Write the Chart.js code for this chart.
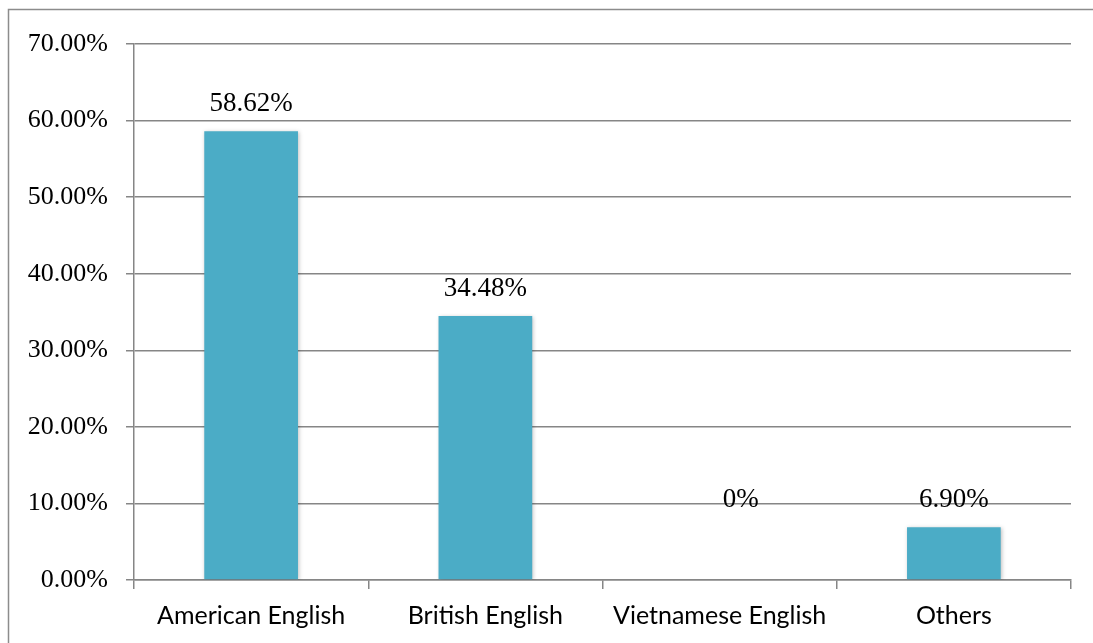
<!DOCTYPE html>
<html lang="en">

<head>
    <meta charset="UTF-8">
    <script src="https://cdn.jsdelivr.net/npm/chart.js@4"></script>
    <title>English varieties</title>
    <style>
        body { margin: 0; background: #fff; }
        #wrap { width: 1093px; height: 643px; position: relative; }
    </style>
</head>

<body>
    <div id="wrap"><canvas id="myChart"></canvas></div>
    <script>
        // data
        var categories = ['American English', 'British English', 'Vietnamese English', 'Others'];
        var shares = [58.62, 34.48, 0, 6.90];
        var shareLabels = ['58.62%', '34.48%', '0%', '6.90%'];
        var yTicks = [0, 10, 20, 30, 40, 50, 60, 70];

        var gridGray = '#868686';
        var serif = '"Liberation Serif", "Times New Roman", serif';

        // outer frame (runs off the right and bottom edge) + white background
        var framePlugin = {
            id: 'frame',
            beforeDraw: function (chart) {
                var c = chart.ctx;
                c.save();
                c.fillStyle = '#fff';
                c.fillRect(0, 0, chart.width, chart.height);
                c.strokeStyle = '#8c8c8c';
                c.lineWidth = 1.5;
                c.strokeRect(8.5, 9.5, 1200, 700);
                c.restore();
            }
        };

        // soft shadow under the bars like the office chart
        var shadowPlugin = {
            id: 'barShadow',
            beforeDatasetDraw: function (chart) {
                var c = chart.ctx;
                c.save();
                c.shadowColor = 'rgba(0,0,0,0.25)';
                c.shadowBlur = 4;
                c.shadowOffsetX = 1;
                c.shadowOffsetY = 1;
            },
            afterDatasetDraw: function (chart) {
                chart.ctx.restore();
            }
        };

        // value labels above each bar (zero value sits where excel put it, a bit off to the right)
        var labelPlugin = {
            id: 'valueLabels',
            afterDatasetsDraw: function (chart) {
                var c = chart.ctx;
                var meta = chart.getDatasetMeta(0);
                var y = chart.scales.y;
                c.save();
                c.font = '27px ' + serif;
                c.fillStyle = '#000';
                c.textAlign = 'center';
                c.textBaseline = 'alphabetic';
                meta.data.forEach(function (bar, i) {
                    var zero = shares[i] <= 0;
                    var v = zero ? 6.9 : shares[i];
                    c.fillText(shareLabels[i], bar.x + (zero ? 21 : 0), y.getPixelForValue(v) - 20);
                });
                c.restore();
            }
        };

        var ctx = document.getElementById('myChart').getContext('2d');
        var myChart = new Chart(ctx, {
            type: 'bar',
            data: {
                labels: categories,
                datasets: [{
                    data: shares,
                    backgroundColor: '#4bacc6',
                    borderWidth: 0,
                    categoryPercentage: 0.8,
                    barPercentage: 0.5
                }]
            },
            options: {
                responsive: true,
                maintainAspectRatio: false,
                animation: false,
                layout: { padding: { top: 44, right: 22, bottom: 0, left: 0 } },
                plugins: { legend: { display: false }, tooltip: { enabled: false } },
                scales: {
                    x: {
                        grid: { drawOnChartArea: false, drawTicks: true, tickLength: 9, color: gridGray, lineWidth: 1.5 },
                        border: { color: gridGray, width: 1.5 },
                        ticks: { color: '#000', padding: 12, font: { family: 'Lato, "Open Sans", sans-serif', size: 25 } },
                        afterFit: function (s) { s.height = 63; }
                    },
                    y: {
                        min: 0,
                        max: 70,
                        afterBuildTicks: function (s) { s.ticks = yTicks.map(function (v) { return { value: v }; }); },
                        grid: { color: gridGray, lineWidth: 1.5, tickLength: 8 },
                        border: { color: gridGray, width: 1.5 },
                        ticks: {
                            color: '#000',
                            padding: 18,
                            font: { family: serif, size: 26 },
                            callback: function (v) { return v.toFixed(2) + '%'; }
                        },
                        afterFit: function (s) { s.width = 134; }
                    }
                }
            },
            plugins: [framePlugin, shadowPlugin, labelPlugin]
        });
    </script>
</body>

</html>
